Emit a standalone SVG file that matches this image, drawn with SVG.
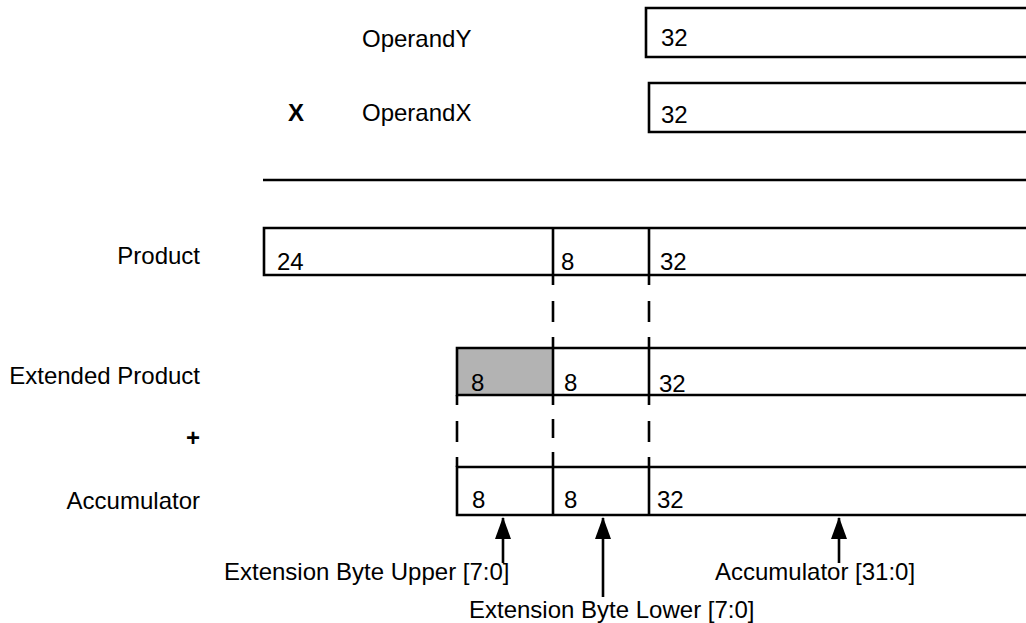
<svg xmlns="http://www.w3.org/2000/svg" width="1026" height="623" viewBox="0 0 1026 623">
<style>
text{font-family:"Liberation Sans",Arial,Helvetica,sans-serif;font-size:24px;fill:#000}
.r{text-anchor:end}
.box{fill:#fff;stroke:#000;stroke-width:2.6}
.ln{stroke:#000;stroke-width:2.6;fill:none}
</style>
<defs>
<marker id="ah" viewBox="0 0 22 16" refX="21" refY="8" markerWidth="22" markerHeight="16" markerUnits="userSpaceOnUse" orient="auto">
<path d="M0,0 L22,8 L0,16 Z" fill="#000"/>
</marker>
</defs>
<g id="labels">
<text x="362" y="47">OperandY</text>
<text x="288" y="121" style="font-weight:bold">X</text>
<text x="362" y="121">OperandX</text>
<text class="r" x="200" y="264">Product</text>
<text class="r" x="200" y="384">Extended Product</text>
<text class="r" x="200" y="446" style="font-weight:bold">+</text>
<text class="r" x="200" y="509">Accumulator</text>
</g>
<g id="operandY">
<path class="box" d="M1030,8 H646 V57 H1030"/>
<text x="661" y="46">32</text>
</g>
<g id="operandX">
<path class="box" d="M1030,83 H649 V132 H1030"/>
<text x="661" y="123">32</text>
</g>
<g id="rule"><line class="ln" x1="263" y1="180" x2="1030" y2="180"/></g>
<g id="product">
<path class="box" d="M1030,228 H264 V275 H1030"/>
<line class="ln" x1="553" y1="228" x2="553" y2="275"/>
<line class="ln" x1="649" y1="228" x2="649" y2="275"/>
<text x="277" y="270">24</text>
<text x="561" y="270">8</text>
<text x="660" y="270">32</text>
</g>
<g id="extended-product">
<rect x="457" y="348" width="96" height="47" fill="#b3b3b3"/>
<path class="ln" d="M1030,348 H457 V395 H1030"/>
<line class="ln" x1="553" y1="348" x2="553" y2="395"/>
<line class="ln" x1="649" y1="348" x2="649" y2="395"/>
<text x="471" y="391">8</text>
<text x="564" y="391">8</text>
<text x="659" y="392">32</text>
</g>
<g id="accumulator">
<path class="box" d="M1030,467 H457 V515 H1030"/>
<line class="ln" x1="553" y1="467" x2="553" y2="515"/>
<line class="ln" x1="649" y1="467" x2="649" y2="515"/>
<text x="472" y="508">8</text>
<text x="564" y="508">8</text>
<text x="657" y="508">32</text>
</g>
<g id="connectors">
<path class="ln" d="M553,275 V285 M553,301 V322 M553,337 V348 M649,275 V285 M649,301 V322 M649,337 V348"/>
<path class="ln" d="M457,395 V405 M457,421 V442 M457,457 V467 M553,395 V405 M553,419 V438 M553,452 V467 M649,395 V405 M649,421 V442 M649,457 V467"/>
<line class="ln" x1="503" y1="563" x2="503" y2="518" marker-end="url(#ah)"/>
<line class="ln" x1="603" y1="597" x2="603" y2="518" marker-end="url(#ah)"/>
<line class="ln" x1="839" y1="563" x2="839" y2="518" marker-end="url(#ah)"/>
</g>
<g id="arrow-labels">
<text x="224" y="580">Extension Byte Upper [7:0]</text>
<text x="469" y="618">Extension Byte Lower [7:0]</text>
<text x="715" y="580">Accumulator [31:0]</text>
</g>
</svg>
